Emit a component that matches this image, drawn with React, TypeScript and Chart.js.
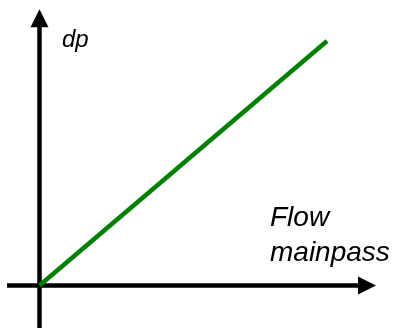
import React, { useEffect, useRef } from "react";
import { Chart, registerables } from "chart.js";

Chart.register(...registerables);

// Data (in chart units)
const flowValues = [0, 10];
const dpValues = [0, 10];

// Axis ranges and arrow extents (chart units)
const xRange = [-1.374, 12.33];
const yRange = [-1.738, 11.677];
const xAxisSpan = [-1.13, 11.704];
const yAxisSpan = [-1.738, 11.297];

// Labels
const yLabel = "dp";
const xLabelLines = ["Flow", "mainpass"];
const yLabelPos = [0.783, 9.755];
const xLabelPos = [8.017, 2.434];

const axesPlugin = {
  id: "arrowAxes",
  beforeDatasetsDraw(chart: any) {
    const ctx = chart.ctx;
    const xs = chart.scales.x;
    const ys = chart.scales.y;
    const x0 = xs.getPixelForValue(0);
    const y0 = ys.getPixelForValue(0);
    const head = 18;
    const half = 9;
    ctx.save();
    ctx.fillStyle = "#000";
    ctx.strokeStyle = "#000";
    ctx.lineWidth = 4.5;
    ctx.lineCap = "butt";
    // x axis
    const xl = xs.getPixelForValue(xAxisSpan[0]);
    const xt = xs.getPixelForValue(xAxisSpan[1]);
    ctx.beginPath();
    ctx.moveTo(xl, y0);
    ctx.lineTo(xt - head + 1, y0);
    ctx.stroke();
    ctx.beginPath();
    ctx.moveTo(xt, y0);
    ctx.lineTo(xt - head, y0 - half);
    ctx.lineTo(xt - head, y0 + half);
    ctx.closePath();
    ctx.fill();
    // y axis
    const yb = ys.getPixelForValue(yAxisSpan[0]);
    const yt = ys.getPixelForValue(yAxisSpan[1]);
    ctx.beginPath();
    ctx.moveTo(x0, yb);
    ctx.lineTo(x0, yt + head - 1);
    ctx.stroke();
    ctx.beginPath();
    ctx.moveTo(x0, yt);
    ctx.lineTo(x0 - half, yt + head);
    ctx.lineTo(x0 + half, yt + head);
    ctx.closePath();
    ctx.fill();
    // labels
    ctx.textAlign = "left";
    ctx.textBaseline = "alphabetic";
    ctx.font = "italic 24px 'Liberation Sans', Arial, sans-serif";
    ctx.fillText(yLabel, xs.getPixelForValue(yLabelPos[0]), ys.getPixelForValue(yLabelPos[1]));
    ctx.font = "italic 28px 'Liberation Sans', Arial, sans-serif";
    const lx = xs.getPixelForValue(xLabelPos[0]);
    const ly = ys.getPixelForValue(xLabelPos[1]);
    xLabelLines.forEach((t, i) => ctx.fillText(t, lx, ly + i * 35));
    ctx.restore();
  },
};

export default function App() {
  const ref = useRef<HTMLCanvasElement>(null);
  useEffect(() => {
    document.body.style.margin = "0";
    const chart = new Chart(ref.current!, {
      type: "scatter",
      data: {
        datasets: [
          {
            data: flowValues.map((x, i) => ({ x, y: dpValues[i] })),
            showLine: true,
            borderColor: "#008000",
            borderWidth: 4.5,
            pointRadius: 0,
            borderCapStyle: "butt",
            clip: false as any,
          },
        ],
      },
      options: {
        animation: false,
        responsive: false,
        maintainAspectRatio: false,
        layout: { padding: 0 },
        plugins: { legend: { display: false }, tooltip: { enabled: false } },
        scales: {
          x: { type: "linear", display: false, min: xRange[0], max: xRange[1] },
          y: { type: "linear", display: false, min: yRange[0], max: yRange[1] },
        },
      },
      plugins: [axesPlugin],
    });
    return () => chart.destroy();
  }, []);
  return (
    <div style={{ position: "fixed", left: 0, top: 0, width: 394, height: 328, background: "#fff" }}>
      <canvas ref={ref} width={394} height={328} style={{ display: "block" }} />
    </div>
  );
}
